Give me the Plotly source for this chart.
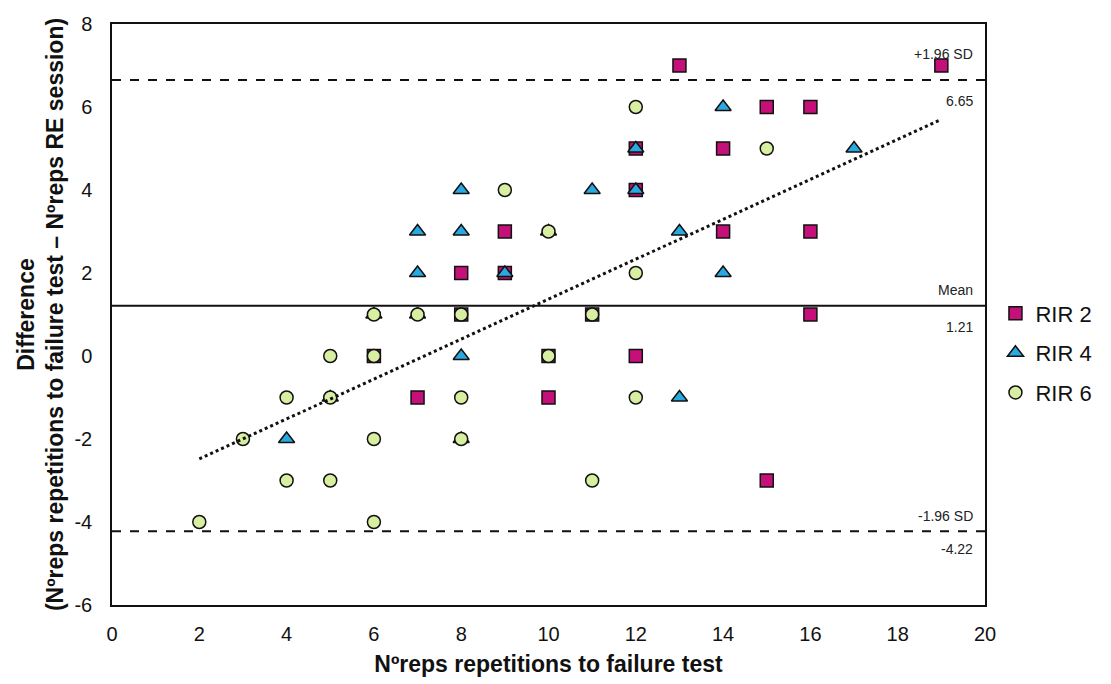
import plotly.graph_objects as go

# ---- data ----
rir2_x = [6, 7, 8, 8, 9, 9, 10, 10, 11, 12, 12, 12, 13, 14, 14, 15, 15, 16, 16, 16, 19]
rir2_y = [0, -1, 2, 1, 3, 2, 0, -1, 1, 5, 4, 0, 7, 5, 3, 6, -3, 6, 3, 1, 7]

rir4_x = [4, 5, 6, 7, 7, 7, 8, 8, 8, 8, 9, 10, 11, 12, 12, 13, 13, 14, 14, 17]
rir4_y = [-2, -1, 1, 3, 2, 1, 4, 3, 0, -2, 2, 3, 4, 5, 4, 3, -1, 6, 2, 5]

rir6_x = [2, 3, 4, 4, 5, 5, 5, 6, 6, 6, 6, 7, 8, 8, 8, 9, 10, 10, 11, 11, 12, 12, 12, 15]
rir6_y = [-4, -2, -1, -3, 0, -1, -3, 1, 0, -2, -4, 1, 1, -1, -2, 4, 3, 0, 1, -3, 6, 2, -1, 5]

trend_x = [2, 19]
trend_y = [-2.48, 5.70]

mean_diff = 1.21
upper_loa = 6.65
lower_loa = -4.22

x_ticks = [0, 2, 4, 6, 8, 10, 12, 14, 16, 18, 20]
y_ticks = [-6, -4, -2, 0, 2, 4, 6, 8]
y_tick_labels = ["-6", "-4", "-2", "0", "2", "4", "6", "8"]

FONT = "Liberation Sans, Arial, sans-serif"

fig = go.Figure()
fig.add_trace(go.Scatter(x=rir2_x, y=rir2_y, mode="markers", name="RIR 2", legendgroup="a",
                         marker=dict(symbol="square", size=13, color="#C5107A",
                                     line=dict(color="#111111", width=1.5))))
fig.add_trace(go.Scatter(x=rir4_x, y=rir4_y, mode="markers", name="RIR 4", legendgroup="b",
                         marker=dict(symbol="triangle-up", size=14, color="#2AA8E0",
                                     line=dict(color="#111111", width=1.5))))
fig.add_trace(go.Scatter(x=rir6_x, y=rir6_y, mode="markers", name="RIR 6", legendgroup="c",
                         marker=dict(symbol="circle", size=13, color="#D8EFA2",
                                     line=dict(color="#111111", width=1.5))))
fig.add_trace(go.Scatter(x=trend_x, y=trend_y, mode="lines", showlegend=False,
                         line=dict(color="#111111", width=3, dash="dot")))

fig.add_hline(y=mean_diff, line=dict(color="#111111", width=2))
fig.add_hline(y=upper_loa, line=dict(color="#111111", width=2, dash="dash"))
fig.add_hline(y=lower_loa, line=dict(color="#111111", width=2, dash="dash"))

ann = [("+1.96 SD", upper_loa, "bottom", 16), (f"{upper_loa:.2f}", upper_loa, "top", -11),
       ("Mean", mean_diff, "bottom", 6), (f"{mean_diff:.2f}", mean_diff, "top", -11),
       ("-1.96 SD", lower_loa, "bottom", 5), (f"{lower_loa:.2f}", lower_loa, "top", -8)]
for txt, yv, anch, sh in ann:
    fig.add_annotation(x=0.988, xref="paper", y=yv, yref="y", text=txt, showarrow=False,
                       xanchor="right", yanchor=anch, yshift=sh,
                       font=dict(family=FONT, size=14, color="#222222"))

fig.update_layout(
    width=1111, height=684,
    margin=dict(l=112, r=126, t=24, b=79, autoexpand=False),
    paper_bgcolor="white", plot_bgcolor="white",
    font=dict(family=FONT, color="#111111"),
    legend=dict(xref="container", x=0.896, xanchor="left",
                yref="container", y=0.484, yanchor="middle",
                font=dict(family=FONT, size=22, color="#111111"),
                tracegroupgap=8, itemwidth=30),
    xaxis=dict(range=[0, 20], tickvals=x_ticks, showgrid=False, zeroline=False,
               showline=True, mirror=True, linecolor="#111111", linewidth=1.5,
               ticks="", ticklabelstandoff=10, tickfont=dict(size=20, family=FONT),
               title=dict(text="<b>Nºreps repetitions to failure test</b>",
                          font=dict(size=23, family=FONT), standoff=12)),
    yaxis=dict(range=[-6, 8], tickvals=y_ticks, ticktext=y_tick_labels,
               showgrid=False, zeroline=False,
               showline=True, mirror=True, linecolor="#111111", linewidth=1.5,
               ticks="", ticklabelstandoff=14, tickfont=dict(size=20, family=FONT),
               title=dict(text="<b>Difference<br>(Nºreps repetitions to failure test – Nºreps RE session)</b>",
                          font=dict(size=23, family=FONT), standoff=4)),
)

fig.write_html("out.html")
